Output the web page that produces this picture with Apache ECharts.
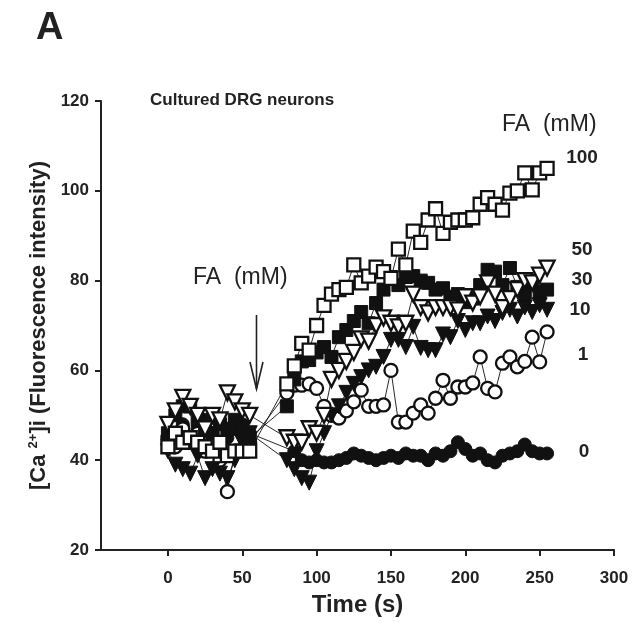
<!DOCTYPE html>
<html><head><meta charset="utf-8">
<script src="https://cdn.jsdelivr.net/npm/echarts@6/dist/echarts.min.js"></script>
<style>html,body{margin:0;padding:0;background:#fff}#c{width:635px;height:628px}</style>
</head><body><div id="c"></div>
<script>
// Time points (s)
const time = [0,5,10,15,20,25,30,35,40,45,50,55,
  80,85,90,95,100,105,110,115,120,125,130,135,140,145,150,155,160,165,170,175,
  180,185,190,195,200,205,210,215,220,225,230,235,240,245,250,255];

// [Ca2+]i fluorescence intensity per FA concentration
const fa0 = [44,46,48,45,47,49,46,44,45,47,48,46,
  null,42,40,39.5,40,39.5,39.5,40,40.5,41.5,41,40.5,40,40.5,41,40.5,41.5,41,41,40,
  41.5,41,42,44,42.5,41,41.5,40,39.5,41,41.5,42,43.5,42,41.5,41.5];
const fa1 = [45,43,47,44,46,42,44,40,33,42,46,44,
  55,56.7,56.7,57,56,52,50,49.4,51,53,55.6,52,52,52.3,60,48.5,48.5,50.5,52.3,50.5,
  53.8,57.8,53.8,56.3,56.3,57.2,63,56,55.2,61.6,63,60.8,62,67.4,61.9,68.6];
const fa10 = [42,39,38,37,41,36,38,37,36,40,44,46,
  40,38,36,35,42,46,50,52,55,57,58.5,60,60.8,63,66.8,66.8,65.2,69.7,65,64.5,
  64.5,68,67.4,71,69,70.5,70.5,72,71,72.8,73.5,72,74,73,74.5,73.5];
const fa30 = [46,50,52,52,49,47,46,48,47,49,47,45,
  52,58,62,62.3,64,65.2,63,67.4,69,71,73,70.5,75,78,80.8,79,80.8,81,80,79.5,
  78,78.3,76.4,77,75.2,76,79,82.4,82,79,82.8,78.6,77,80,77.5,78];
const fa50 = [48,51,54,52,50,47,50,49,55,53,51,50,
  45,44,44,47,46,50,58,60,62,64,67,66.5,70,71.7,70.5,69.7,70.5,77,74,72.8,
  74,74,74,73.5,76.4,75,76.4,79.5,77,74,76,78,80,79.5,81.2,82.8];
const fa100 = [43,46,44,45,44,43,42,44,41,42,42,42,
  57,61,66,64.5,70,74.5,77,78,78.5,83.5,79.5,81,83,82,80.5,87,83.5,91,88.5,93.5,
  96,90.5,93,93.5,93.5,94,97,98.5,97,95.7,99.5,100,104,100.2,104,105];

const xTicks = [0,50,100,150,200,250,300];
const seriesLabels = ['0','1','10','30','50','100'];

const FONT = '"Liberation Sans", Arial, sans-serif';
const pairs = v => time.map((t,i)=>[t, v[i]]).filter(p => p[1] !== null);

function mk(name, vals, symbol, filled, size, rot) {
  return {
    name, type: 'line', data: pairs(vals), symbol, symbolSize: size,
    symbolRotate: rot || 0, showAllSymbol: true, connectNulls: true,
    lineStyle: {color: '#111', width: 0.9},
    itemStyle: filled ? {color: '#111', borderColor: '#111', borderWidth: 1}
                      : {color: '#fff', borderColor: '#111', borderWidth: 2.3},
    emphasis: {disabled: true}, animation: false, z: 2
  };
}

const chart = echarts.init(document.getElementById('c'), null, {renderer: 'canvas'});
const option = {
  animation: false,
  backgroundColor: '#fff',
  grid: {left: 101, right: 21, top: 101, bottom: 78, containLabel: false},
  xAxis: {
    type: 'value', min: -45, max: 300,
    name: 'Time (s)', nameLocation: 'middle', nameGap: 43,
    nameTextStyle: {fontFamily: FONT, fontWeight: 'bold', fontSize: 24, color: '#222'},
    axisLine: {show: true, onZero: false, lineStyle: {color: '#222', width: 2}},
    axisTick: {show: true, length: 6, lineStyle: {color: '#222', width: 2}, customValues: xTicks},
    axisLabel: {fontFamily: FONT, fontWeight: 'bold', fontSize: 17, color: '#222', margin: 20, customValues: xTicks},
    splitLine: {show: false}
  },
  yAxis: {
    type: 'value', min: 20, max: 120, interval: 20,
    name: '[Ca {sup|2+}]i (Fluorescence intensity)', nameLocation: 'middle', nameGap: 50,
    nameTextStyle: {fontFamily: FONT, fontWeight: 'bold', fontSize: 22, color: '#222',
      rich: {sup: {fontFamily: FONT, fontWeight: 'bold', fontSize: 13, color: '#222', verticalAlign: 'top', padding: [0,0,11,0]}}},
    axisLine: {show: true, onZero: false, lineStyle: {color: '#222', width: 2}},
    axisTick: {show: true, length: 6, lineStyle: {color: '#222', width: 2}},
    axisLabel: {fontFamily: FONT, fontWeight: 'bold', fontSize: 17, color: '#222', margin: 12},
    splitLine: {show: false}
  },
  series: [
    mk('0', fa0, 'circle', true, 13),
    mk('1', fa1, 'circle', false, 13),
    mk('10', fa10, 'triangle', true, 15, 180),
    mk('30', fa30, 'rect', true, 13),
    mk('50', fa50, 'triangle', false, 15, 180),
    mk('100', fa100, 'rect', false, 13)
  ]
};
chart.setOption(option);

// Annotations
const txt = (x, y, text, size, weight, align) => ({
  type: 'text', x, y, silent: true, z: 10,
  style: {text, fontFamily: FONT, fontSize: size, fontWeight: weight || 'normal', fill: '#222',
    align: align || 'left', verticalAlign: 'middle'}
});
const labelY = [452, 355, 310, 280, 250, 158];
const labelX = [584, 583, 580, 582, 582, 582];
const g = [
  txt(36, 29, 'A', 38, 'bold'),
  txt(150, 100, 'Cultured DRG neurons', 17, 'bold'),
  txt(193, 278, 'FA  (mM)', 23, 'normal'),
  txt(502, 125, 'FA  (mM)', 23, 'normal'),
  {type: 'line', silent: true, shape: {x1: 256.5, y1: 315, x2: 256.5, y2: 389}, style: {stroke: '#222', lineWidth: 1.6}},
  {type: 'polyline', silent: true, shape: {points: [[250, 362], [256.5, 389], [263, 362]]}, style: {stroke: '#222', lineWidth: 1.6, fill: null}}
];
seriesLabels.forEach((s, i) => g.push(txt(labelX[i], labelY[i], s, 19, 'bold', 'center')));
chart.setOption({graphic: g});
</script>
</body></html>
